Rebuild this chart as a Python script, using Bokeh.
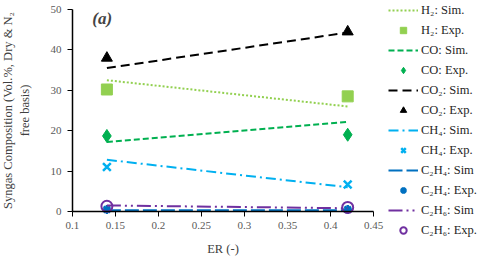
from bokeh.plotting import figure
from bokeh.models import Legend, LegendItem, Label, Range1d, FixedTicker
from bokeh.embed import file_html
from bokeh.resources import INLINE

er = [0.14, 0.42]
h2_sim = [32.5, 26.0]
h2_exp = [30.2, 28.5]
co_sim = [17.2, 22.2]
co_exp = [18.7, 19.0]
co2_sim = [35.5, 44.3]
co2_exp = [38.0, 44.5]
ch4_sim = [12.8, 6.0]
ch4_exp = [11.0, 6.7]
c2h4_sim = [0.3, 0.3]
c2h4_exp = [0.5, 0.5]
c2h6_sim = [1.5, 0.8]
c2h6_exp = [1.3, 1.0]
x_ticks = [0.1, 0.15, 0.2, 0.25, 0.3, 0.35, 0.4, 0.45]
y_ticks = [0, 10, 20, 30, 40, 50]

FONT = "Liberation Serif"

p = figure(width=480, height=256, output_backend="svg", toolbar_location=None,
           x_range=Range1d(0.0163, 0.5744), y_range=Range1d(-11.14, 52.23),
           min_border_top=0, min_border_left=0, min_border_bottom=0, min_border_right=0)
p.outline_line_color = None
p.grid.visible = False

for ax in (p.xaxis[0], p.yaxis[0]):
    ax.axis_line_color = "black"
    ax.axis_line_width = 1.5
    ax.major_tick_line_color = "black"
    ax.major_tick_out = 5
    ax.major_tick_in = 0
    ax.minor_tick_line_color = None
    ax.major_label_text_font = FONT
    ax.major_label_text_font_size = "11px"
    ax.major_label_text_color = "#595959"
    ax.major_label_standoff = 6
    ax.axis_label_text_font = FONT
    ax.axis_label_text_font_style = "normal"
    ax.axis_label_text_font_size = "12.5px"
    ax.axis_label_text_color = "#404040"

p.xaxis.ticker = FixedTicker(ticks=x_ticks)
p.xaxis.bounds = (0.1, 0.45)
p.xaxis.fixed_location = 0
p.yaxis.ticker = FixedTicker(ticks=y_ticks)
p.yaxis.bounds = (0, 50)
p.yaxis.fixed_location = 0.1
p.xaxis.axis_label = "ER (-)"
p.yaxis.axis_label = "Syngas Composition (Vol.%, Dry & N\u2082\nfree basis)"
p.xaxis.axis_label_standoff = 9
p.yaxis.axis_label_standoff = 16

items = []
def add(label_sim, label_exp, sim, exp, color, dash, marker, msize, fill=True, lw_m=1):
    r1 = p.line(er, sim, line_color=color, line_width=2, line_dash=dash)
    if marker == "circle" and not fill:
        r2 = p.scatter(er, exp, marker=marker, size=msize, line_color=color,
                       fill_color=None, line_width=2)
    elif marker in ("x", "asterisk"):
        r2 = p.scatter(er, exp, marker=marker, size=msize, line_color=color,
                       line_width=lw_m)
    else:
        r2 = p.scatter(er, exp, marker=marker, size=msize, line_color=color,
                       fill_color=color)
    items.append(LegendItem(label=label_sim, renderers=[r1]))
    items.append(LegendItem(label=label_exp, renderers=[r2]))

add("H\u2082: Sim.", "H\u2082: Exp.", h2_sim, h2_exp, "#92D050", "2 2", "square", 11)
add("CO: Sim.", "CO: Exp.", co_sim, co_exp, "#00B050", "6 3", "diamond", 13)
add("CO\u2082: Sim.", "CO\u2082: Exp.", co2_sim, co2_exp, "black", "9 5", "triangle", 11)
add("CH\u2084: Sim.", "CH\u2084: Exp.", ch4_sim, ch4_exp, "#00B0F0", "10 4 2 4", "x", 11, lw_m=2.5)
add("C\u2082H\u2084: Sim", "C\u2082H\u2084: Exp.", c2h4_sim, c2h4_exp, "#0070C0", "14 4", "asterisk", 9, lw_m=2.5)
add("C\u2082H\u2086: Sim", "C\u2082H\u2086: Exp.", c2h6_sim, c2h6_exp, "#7030A0", "14 4 2 4 2 4", "circle", 11, fill=False)

legend = Legend(items=items, location=(388, 18), border_line_color=None,
                background_fill_alpha=0, label_text_font=FONT,
                label_text_font_size="12.5px", label_text_color="#262626",
                glyph_width=30, glyph_height=16, spacing=4, padding=0,
                margin=0, label_standoff=3, label_height=12, label_width=40)
p.add_layout(legend)

p.add_layout(Label(x=0.123, y=45.3, text="(a)", text_font=FONT,
                   text_font_style="bold italic", text_font_size="17px"))

open("out.html", "w").write(file_html(p, INLINE))
